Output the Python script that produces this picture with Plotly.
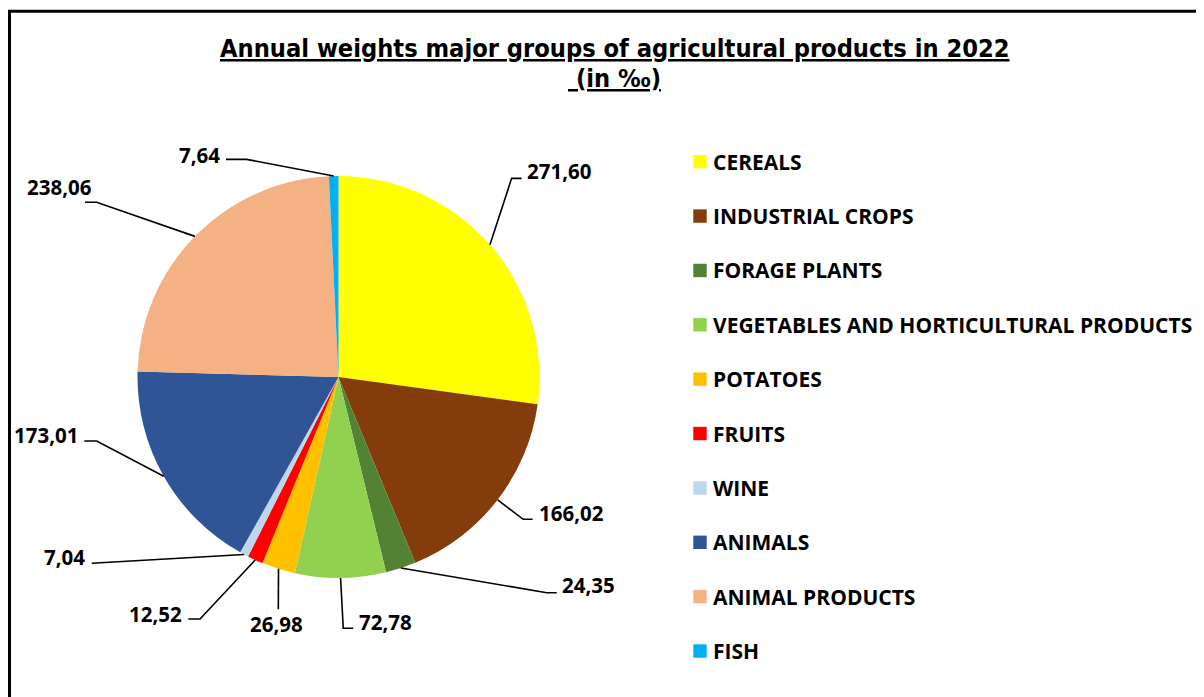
import math
import plotly.graph_objects as go

# ---------------- data ----------------
categories = ["CEREALS", "INDUSTRIAL CROPS", "FORAGE PLANTS",
              "VEGETABLES AND HORTICULTURAL PRODUCTS", "POTATOES", "FRUITS",
              "WINE", "ANIMALS", "ANIMAL PRODUCTS", "FISH"]
weights = [271.60, 166.02, 24.35, 72.78, 26.98, 12.52, 7.04, 173.01, 238.06, 7.64]
value_labels = ["271,60", "166,02", "24,35", "72,78", "26,98", "12,52",
                "7,04", "173,01", "238,06", "7,64"]
title_line1 = "Annual weights major groups of agricultural products in 2022"
title_line2 = " (in ‰)"

# ---------------- styles / layout ----------------
colors = ["#FFFF00", "#843C0C", "#548235", "#92D050", "#FFC000", "#FF0000",
          "#BDD7EE", "#2F5597", "#F4B183", "#00B0F0"]

OFF = 8                                  # page body margin
W, H = 1204 - OFF, 697 - OFF
CX, CY, R = 338.5, 377.0, 201.0          # pie centre / radius in page pixels

# label leader geometry, offsets in px relative to slice-edge anchor
# (elbow dx, elbow dy, tail length, text dx from tail end, text dy, xanchor)
label_geom = [
    (21.7, -66.5, 10.0, 3.5, -7.0, "left"),
    (25.6, 19.5, 9.4, 4.0, -6.6, "left"),
    (145.9, 24.6, 10.0, 3.3, -7.7, "left"),
    (2.7, 50.3, 10.0, 3.7, -6.3, "left"),
    (-0.2, 40.5, 0.0, -1.6, 14.7, "center"),
    (-55.2, 59.1, -11.7, -4.3, -5.0, "right"),
    (-152.4, 8.8, 0.0, -4.7, -6.3, "right"),
    (-67.0, -35.3, -12.4, -4.3, -6.0, "right"),
    (-98.2, -34.1, -11.7, 9.0, -15.3, "right"),
    (-87.0, -16.7, -20.7, -4.3, -4.3, "right"),
]

LEG_X, LEG_Y0, LEG_DY, LEG_SQ = 693.3, 161.7, 54.37, 13.4


def px(x):
    return (x - OFF) / W


def py(y):
    return 1 - (y - OFF) / H


label_font = dict(family="Open Sans", size=20.5, color="black")
legend_font = dict(family="Open Sans", size=21, color="black")
title_font = dict(family="DejaVu Sans Condensed, Liberation Sans Narrow, Liberation Sans",
                  size=25.2, color="black")

fig = go.Figure()
fig.add_trace(go.Pie(
    labels=categories,
    values=weights,
    sort=False,
    direction="clockwise",
    rotation=0,
    marker=dict(colors=colors, line=dict(width=0)),
    textinfo="none",
    hoverinfo="label+value",
    showlegend=False,
    domain=dict(x=[px(CX - R), px(CX + R)], y=[py(CY + R), py(CY - R)]),
))

shapes = []
annotations = []

# outer frame
shapes.append(dict(type="rect", xref="paper", yref="paper",
                   x0=px(9.5), x1=1.02, y0=-0.02, y1=py(11.3),
                   line=dict(color="black", width=3), fillcolor="rgba(0,0,0,0)"))

# leader lines and data labels computed from slice mid-angles
total = sum(weights)
cum = 0.0
for i, v in enumerate(weights):
    mid = (cum + v / 2) / total * 2 * math.pi
    cum += v
    ax = CX + R * math.sin(mid)
    ay = CY - R * math.cos(mid)
    edx, edy, tail, tdx, tdy, xa = label_geom[i]
    ex, ey = ax + edx, ay + edy
    tx, ty = ex + tail, ey
    path = f"M {px(ax)} {py(ay)} L {px(ex)} {py(ey)} L {px(tx)} {py(ty)}"
    shapes.append(dict(type="path", xref="paper", yref="paper", path=path,
                       line=dict(color="black", width=1.6)))
    annotations.append(dict(xref="paper", yref="paper", x=px(tx + tdx), y=py(ty + tdy),
                            text=f"<b>{value_labels[i]}</b>", showarrow=False,
                            xanchor=xa, yanchor="middle", font=label_font))

# legend (manual, to match spacing)
for i, cat in enumerate(categories):
    yc = LEG_Y0 + i * LEG_DY
    shapes.append(dict(type="rect", xref="paper", yref="paper",
                       x0=px(LEG_X), x1=px(LEG_X + LEG_SQ),
                       y0=py(yc + LEG_SQ / 2), y1=py(yc - LEG_SQ / 2),
                       fillcolor=colors[i], line=dict(width=0)))
    annotations.append(dict(xref="paper", yref="paper", x=px(LEG_X + 18), y=py(yc),
                            text=f"<b>{cat}</b>", showarrow=False,
                            xanchor="left", yanchor="middle", font=legend_font))

# title (two lines)
for txt, yc in ((title_line1, 48.5), (title_line2, 78.0)):
    annotations.append(dict(xref="paper", yref="paper", x=px(614), y=py(yc),
                            text=f"<b><u>{txt}</u></b>",
                            showarrow=False, xanchor="center", yanchor="middle",
                            font=title_font))

fig.update_layout(
    width=W, height=H, autosize=False,
    margin=dict(l=0, r=0, t=0, b=0),
    paper_bgcolor="white", plot_bgcolor="white",
    shapes=shapes, annotations=annotations,
    showlegend=False,
)

fig.write_html("out.html")
